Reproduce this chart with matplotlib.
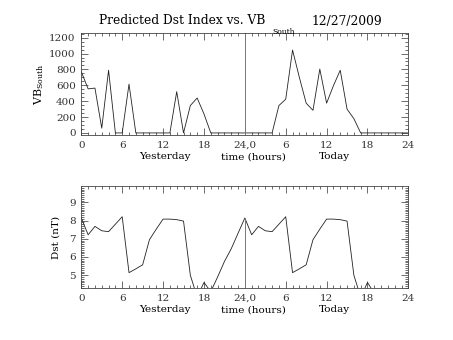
import matplotlib
matplotlib.use('Agg')
import matplotlib.pyplot as plt
from matplotlib.ticker import MultipleLocator

plt.rcParams['font.family'] = 'DejaVu Serif'
plt.rcParams['mathtext.fontset'] = 'dejavuserif'

# hours: 0-23 yesterday, 24-47 today
hours_vb = list(range(0, 49))
vb_south = [770, 555, 565, 60, 790, 0, 0, 615, 0, 0, 0, 0, 0, 0, 520, 0,
            345, 440, 240, 0, 0, 0, 0, 0,
            0, 0, 0, 0, 0, 345, 425, 1045, 700, 375, 285, 805, 375, 595,
            790, 300, 180, 0, 0, 0, 0, 0, 0, 0, 0]

hours_dst = list(range(0, 44))
dst = [8.14, 7.22, 7.68, 7.44, 7.39, 7.8, 8.21, 5.14, 5.35, 5.57, 6.95, 7.53,
       8.08, 8.08, 8.05, 7.97, 5.0, 3.8, 4.6, 4.1, 4.9, 5.75, 6.45, 7.3,
       8.14, 7.22, 7.68, 7.44, 7.39, 7.8, 8.21, 5.14, 5.35, 5.57, 6.95, 7.53,
       8.08, 8.08, 8.05, 7.97, 5.0, 3.8, 4.6, 4.0]

xticks = [0, 6, 12, 18, 24, 30, 36, 42, 48]
xticklabels = ['0', '6', '12', '18', '24,0', '6', '12', '18', '24']

fig = plt.figure(figsize=(4.53, 3.40), dpi=100)
ax1 = fig.add_axes([0.1795, 0.602, 0.722, 0.300])
ax2 = fig.add_axes([0.1795, 0.152, 0.722, 0.300])

def style(ax):
    ax.set_xlim(0, 48)
    ax.set_xticks(xticks)
    ax.set_xticklabels(xticklabels)
    ax.xaxis.set_minor_locator(MultipleLocator(1))
    ax.tick_params(which='both', direction='in', top=True, right=True,
                   labelsize=7.5, width=0.5, colors='#333333')
    ax.tick_params(which='major', length=5, pad=4)
    ax.tick_params(which='minor', length=2.5)
    for s in ax.spines.values():
        s.set_linewidth(0.6)
        s.set_color('#444444')
    tr = ax.get_xaxis_transform()
    ax.text(12.3, -0.21, 'Yesterday', transform=tr, ha='center', va='center', fontsize=7.5)
    ax.text(25.2, -0.21, 'time (hours)', transform=tr, ha='center', va='center', fontsize=7.5)
    ax.text(37.2, -0.21, 'Today', transform=tr, ha='center', va='center', fontsize=7.5)

# VB south panel
ax1.plot(hours_vb, vb_south, color='#222222', lw=0.6)
ax1.axvline(24, color='#777777', lw=0.7)
ax1.set_ylim(-30, 1255)
ax1.set_yticks([0, 200, 400, 600, 800, 1000, 1200])
ax1.yaxis.set_minor_locator(MultipleLocator(50))
style(ax1)
ax1.set_ylabel(r'VB$_{\mathrm{South}}$', fontsize=8, labelpad=2)

# Dst panel
ax2.plot(hours_dst, dst, color='#222222', lw=0.6)
ax2.set_ylim(4.28, 9.88)
ax2.vlines(24, 4.28, dst[24], color='#777777', lw=0.7)
ax2.set_yticks([5, 6, 7, 8, 9])
ax2.yaxis.set_minor_locator(MultipleLocator(0.1))
style(ax2)
ax2.set_ylabel('Dst (nT)', fontsize=7.5, labelpad=6)

# title in pieces: main text, subscript, date
fig.text(99 / 453, 1 - 21 / 340, 'Predicted Dst Index vs. VB',
         ha='left', va='center', fontsize=8.8)
fig.text(272 / 453, 1 - 32 / 340, 'South', ha='left', va='center', fontsize=5.5)
fig.text(346.7 / 453, 1 - 21 / 340, '12/27/2009', ha='center', va='center', fontsize=8.8)

fig.savefig('out.png', dpi=100)
